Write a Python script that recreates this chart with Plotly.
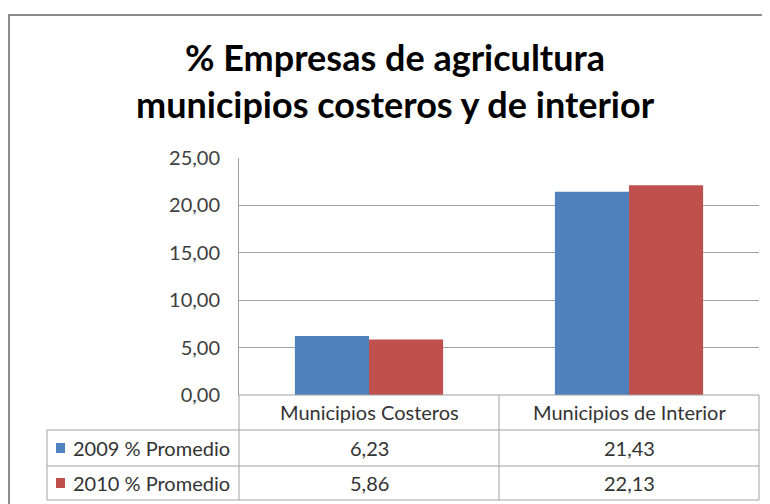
import plotly.graph_objects as go

categories = ["Municipios Costeros", "Municipios de Interior"]
series_names = ["2009 % Promedio", "2010 % Promedio"]
values_2009 = [6.23, 21.43]
values_2010 = [5.86, 22.13]
colors = ["#4F81BD", "#C0504D"]

# the page body adds an 8px margin, so the figure is drawn 8px smaller
OFF = 8
W, H = 770 - OFF, 504 - OFF
# plot area in (reference) pixels
L, R, T, B = 239, 759, 158, 395

def px(x):
    return (x - L) / (R - L)

def py(y):
    return (B - y) / (B - T)

fig = go.Figure()
for name, vals, col in zip(series_names, [values_2009, values_2010], colors):
    fig.add_trace(go.Bar(x=categories, y=vals, name=name, marker_color=col,
                         marker_line_width=0, showlegend=False))

grid = "#a0a0a0"
font = "Lato, 'Open Sans', sans-serif"
txt = "#333333"

shapes = []
def line(x0, y0, x1, y1, color=grid):
    shapes.append(dict(type="line", xref="paper", yref="paper",
                       x0=px(x0), y0=py(y0), x1=px(x1), y1=py(y1),
                       line=dict(color=color, width=1)))

# outer chart frame (runs off the right and bottom edges)
shapes.append(dict(type="rect", xref="paper", yref="paper",
                   x0=px(9), y0=py(15), x1=px(790), y1=py(530),
                   line=dict(color="#8c8c8c", width=2)))

# data table grid
line(L, 395, R, 395)
for yy in [430, 466, 500]:
    line(47, yy, R, yy)
line(47, 430, 47, 500)
line(L, 395, L, 500)
line(499, 395, 499, 500)
line(R, 395, R, 500)

annotations = []
centers = [369, 629]
for c, cat in zip(centers, categories):
    annotations.append(dict(x=px(c), y=py(412), xref="paper", yref="paper",
                            text=cat, showarrow=False, xanchor="center", yanchor="middle",
                            font=dict(size=20, color=txt, family=font)))

row_y = [448, 483]
for ry, name, vals, col in zip(row_y, series_names, [values_2009, values_2010], colors):
    shapes.append(dict(type="rect", xref="paper", yref="paper",
                       x0=px(56), x1=px(65), y0=py(ry - 5), y1=py(ry + 5),
                       fillcolor=col, line=dict(width=0)))
    annotations.append(dict(x=px(71), y=py(ry), xref="paper", yref="paper",
                            text=name, showarrow=False, xanchor="left", yanchor="middle",
                            font=dict(size=20, color=txt, family=font)))
    for c, v in zip(centers, vals):
        annotations.append(dict(x=px(c), y=py(ry), xref="paper", yref="paper",
                                text=f"{v:.2f}".replace(".", ","), showarrow=False,
                                xanchor="center", yanchor="middle",
                                font=dict(size=20, color=txt, family=font)))

annotations.append(dict(x=px(395), y=py(80), xref="paper", yref="paper",
                        text="<b>% Empresas de agricultura<br>municipios costeros y de interior</b>",
                        showarrow=False, xanchor="center", yanchor="middle",
                        font=dict(size=36, color="#000000", family=font)))

fig.update_layout(
    width=W, height=H,
    margin=dict(l=L - OFF, r=770 - R, t=T - OFF, b=504 - B, pad=0),
    plot_bgcolor="white", paper_bgcolor="white",
    separators=",.",
    barmode="group", bargap=0.43, bargroupgap=0,
    shapes=shapes, annotations=annotations,
    xaxis=dict(showticklabels=False, showgrid=False, showline=False, ticks=""),
    yaxis=dict(range=[0, 25], dtick=5, tickformat=".2f", showgrid=True,
               gridcolor=grid, gridwidth=1, showline=True, linecolor=grid,
               ticks="", ticklen=0, zeroline=False, ticklabelstandoff=14,
               tickfont=dict(size=20, color="#404040", family=font)),
    font=dict(family=font),
)

fig.write_html("out.html")
